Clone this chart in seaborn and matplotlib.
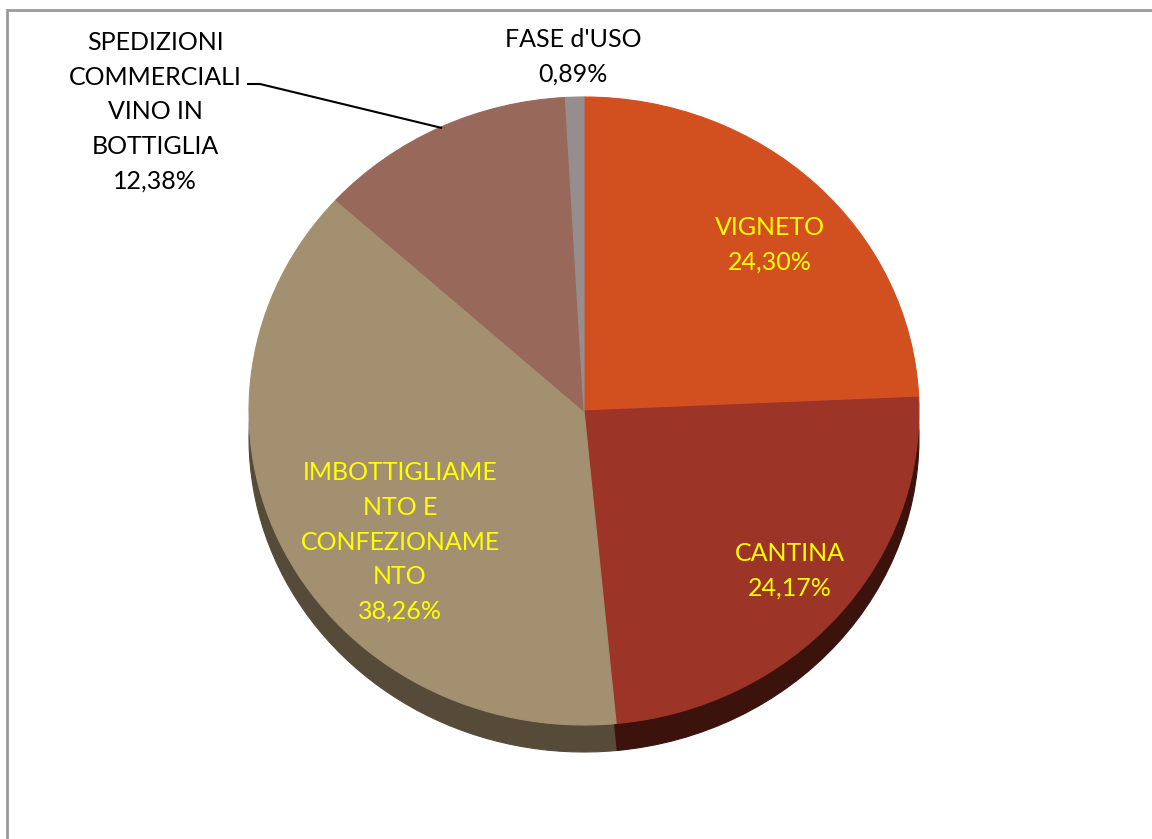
"""Pie chart: ripartizione impatti per fase (vino in bottiglia)."""

import matplotlib

matplotlib.use("Agg")
import matplotlib.pyplot as plt
import seaborn as sns
from matplotlib.patches import Rectangle


# Data
phases = [
    "VIGNETO",
    "CANTINA",
    "IMBOTTIGLIAME\nNTO E\nCONFEZIONAME\nNTO",
    "SPEDIZIONI\nCOMMERCIALI\nVINO IN\nBOTTIGLIA",
    "FASE d'USO",
]
shares = [24.30, 24.17, 38.26, 12.38, 0.89]

top_colors = ["#D24F1F", "#9D3428", "#A39070", "#98685A", "#968E8E"]
side_colors = ["#5E2410", "#3C120D", "#564A38", "#4A3329", "#4A4646"]
label_colors = ["#FFFF00", "#FFFF00", "#FFFF00", "black", "black"]

# Layout in pixels of the 1152x839 output
W, H = 1152, 839
CX, CY = 584, 411
RX, RY = 335, 314
DEPTH = 27
label_pos = [(770, 245), (790, 571), (400, 542), (155, 112), (573, 57)]
leader = [(247, 84), (260, 84), (442, 128)]


def px(x, y):
    """Convert pixel coordinates into the pie's data coordinates."""
    return (x - CX) / RX, (CY - y) / RY


def draw_pie(ax, colors, center=(0, 0)):
    wedges, _ = ax.pie(
        shares,
        colors=colors,
        startangle=90,
        counterclock=False,
        center=center,
    )
    # paint the edge in the fill colour so no white seams show
    for w, c in zip(wedges, colors):
        w.set_edgecolor(c)
        w.set_linewidth(0.8)


def main():
    sns.set_theme(style="white")
    plt.rcParams["font.family"] = ["Lato", "DejaVu Sans"]

    fig = plt.figure(figsize=(W / 100, H / 100), dpi=100)
    fig.patch.set_facecolor("white")
    ax = fig.add_axes([0, 0, 1, 1])

    # side wall: same pie shifted down, darker colours
    draw_pie(ax, side_colors, center=(0, -DEPTH / RY))
    draw_pie(ax, top_colors)

    ax.set_aspect("auto")
    ax.set_xlim(-CX / RX, (W - CX) / RX)
    ax.set_ylim(-(H - CY) / RY, CY / RY)
    ax.axis("off")

    for name, value, color, pos in zip(phases, shares, label_colors, label_pos):
        text = f"{name}\n{value:.2f}".replace(".", ",") + "%"
        x, y = px(*pos)
        ax.text(
            x, y, text,
            ha="center", va="center", multialignment="center",
            fontsize=18, color=color, linespacing=1.62,
        )

    lx, ly = zip(*[px(*p) for p in leader])
    ax.plot(lx, ly, color="black", linewidth=1.5, solid_capstyle="butt")

    # chart frame (only left and top edges are visible in the crop)
    fig.patches.append(
        Rectangle(
            (7 / W, -0.1), 1.2, (H - 10) / H + 0.1,
            transform=fig.transFigure, fill=False,
            edgecolor="#9A9A9A", linewidth=2,
        )
    )

    fig.savefig("out.png", dpi=100, facecolor="white")
    plt.close(fig)


if __name__ == "__main__":
    main()
